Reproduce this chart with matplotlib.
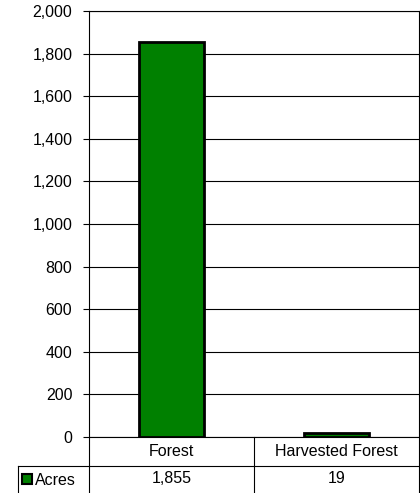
import numpy as np
import matplotlib
matplotlib.use("Agg")
import matplotlib.pyplot as plt
from matplotlib.patches import Rectangle
from matplotlib.lines import Line2D

plt.rcParams.update({"font.family": "Liberation Sans", "font.size": 11.5})

categories = ["Forest", "Harvested Forest"]
acres = [1855, 19]
series_name = "Acres"
yticks = np.arange(0, 2001, 200)

GREEN = "#008000"
W, H = 420, 493

fig = plt.figure(figsize=(W / 100, H / 100), dpi=100)
left, right, top, bottom = 89, 419, 11, 437
ax = fig.add_axes([left / W, 1 - bottom / H, (right - left) / W, (bottom - top) / H])

x = np.arange(len(categories))
ax.bar(x, acres, 0.39, color=GREEN, edgecolor="black", linewidth=2, zorder=3)
ax.set_xlim(-0.5, len(categories) - 0.5)
ax.set_ylim(0, 2000)
ax.set_yticks(yticks)
ax.set_yticklabels([f"{v:,}" for v in yticks])
ax.yaxis.grid(True, color="black", lw=0.8)
ax.set_axisbelow(True)
ax.set_xticks([])
ax.tick_params(axis="y", length=4, width=0.8, pad=8)
for s in ax.spines.values():
    s.set_linewidth(0.8)

# data table drawn below the axes
def fx(px):
    return px / W


def fy(py):
    return 1 - py / H


row1, row2, row3 = 437, 466, 493
col_edges = [left] + [left + (right - left) * (i + 1) / len(categories)
                      for i in range(len(categories))]
lines = []
for cx in col_edges:
    lines.append(((cx, cx), (row1, row3)))
lines.append(((18, right), (row2, row2)))
lines.append(((18, 18), (row2, row3)))
for (xs, ys) in lines:
    fig.add_artist(Line2D([fx(v) for v in xs], [fy(v) for v in ys],
                          color="black", lw=0.8))

for i, (cat, val) in enumerate(zip(categories, acres)):
    cx = (col_edges[i] + col_edges[i + 1]) / 2
    fig.text(fx(cx), fy((row1 + row2) / 2), cat, ha="center", va="center")
    fig.text(fx(cx), fy((row2 + row3) / 2 - 1), f"{val:,}", ha="center", va="center")

fig.add_artist(Rectangle((fx(22), fy(484)), 10 / W, 10 / H, facecolor=GREEN,
                         edgecolor="black", lw=1.5))
fig.text(fx(35), fy((row2 + row3) / 2 + 1), series_name, ha="left", va="center")

fig.savefig("out.png", dpi=100)
